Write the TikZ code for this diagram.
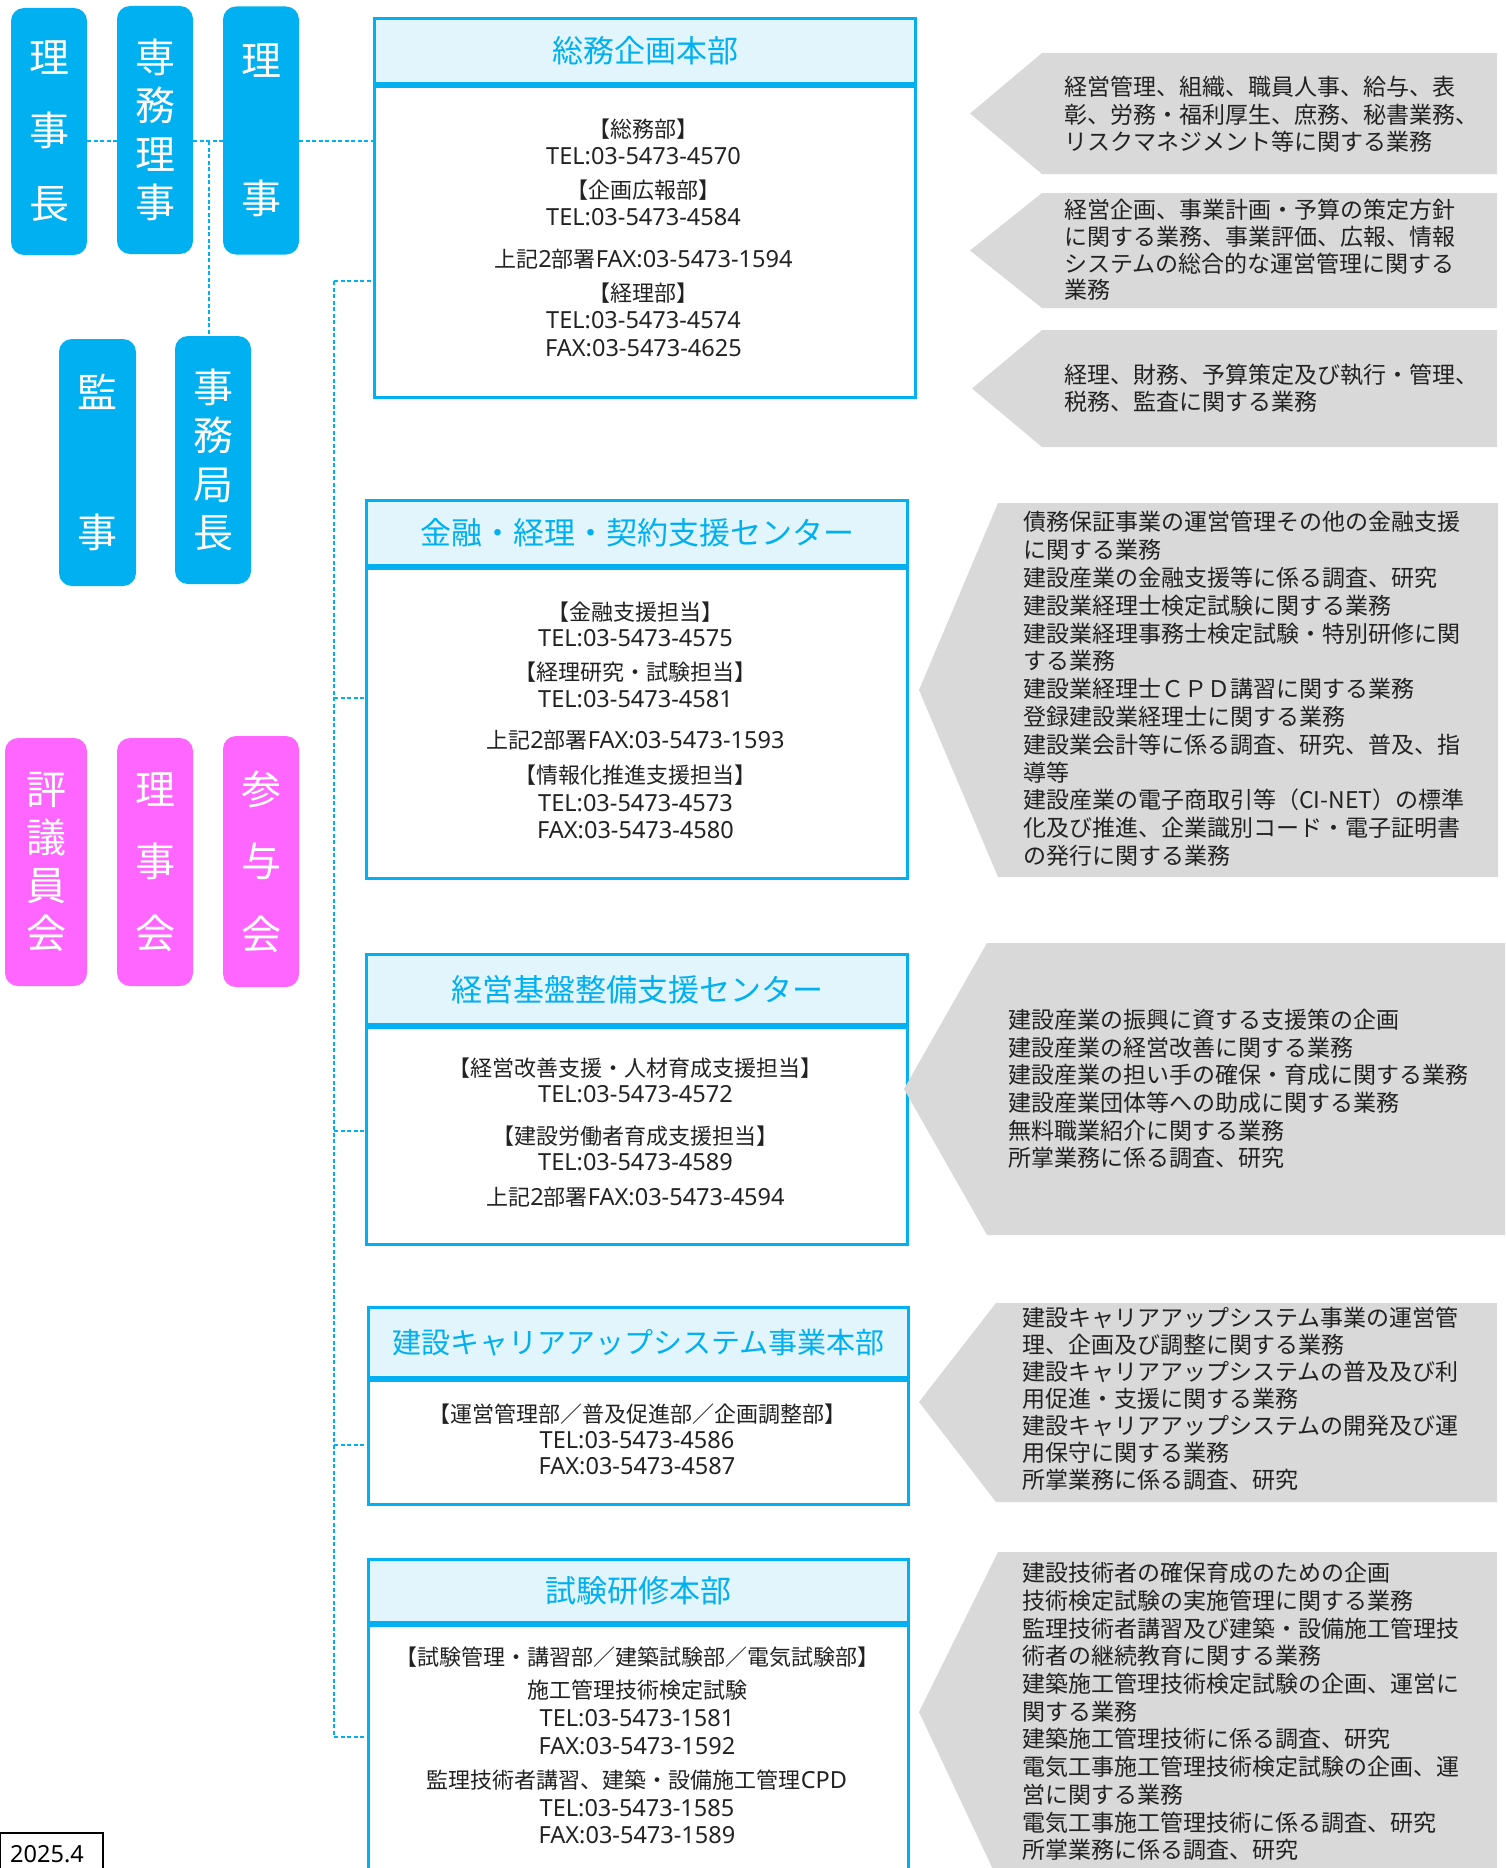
\documentclass[tikz,border=0pt]{standalone}
\usepackage{fontspec}
\setmainfont{Noto Sans CJK JP}
\newfontfamily\latfont{Noto Sans}[Scale=1.07]
\usetikzlibrary{calc}
\definecolor{cblue}{HTML}{00B0F0}
\definecolor{cpink}{HTML}{FF66FF}
\definecolor{chead}{HTML}{E2F4FC}
\definecolor{cgray}{HTML}{D9D9D9}
\definecolor{ctext}{HTML}{222222}
\newcommand{\LB}{\makebox[0.5em][r]{【}}
\newcommand{\RB}{\makebox[0.5em][l]{】}}
\newcommand{\LT}[1]{{\latfont #1}}
\tikzset{
  leftbox/.style={fill=cblue, rounded corners=13pt, text=white, align=center, inner sep=0pt, minimum width=76pt},
  pinkbox/.style={leftbox, fill=cpink},
  headbox/.style={draw=cblue, line width=3pt, fill=chead, text=cblue, inner sep=0pt, anchor=north west, minimum width=541pt, font=\fontsize{31}{36}\selectfont},
  bodybox/.style={draw=cblue, line width=3pt, fill=white, inner sep=0pt, anchor=north west, minimum width=541pt},
  sepline/.style={draw=cblue, line width=6pt},
  bodytext/.style={text=ctext, align=center, inner sep=0pt},
  arrowtext/.style={text=ctext, align=left, inner sep=0pt, anchor=west},
  arrowshape/.style={fill=cgray},
  dashline/.style={draw=cblue, line width=1.5pt, dash pattern=on 4pt off 2.5pt},
}
\begin{document}
\begin{tikzpicture}[x=1pt, y=-1pt]
\useasboundingbox (0,0) rectangle (1505,1868);
\clip (0,0) rectangle (1505,1868);
\fill[white] (0,0) rectangle (1505,1868);

% ---------- left officer boxes ----------
\node[leftbox, minimum height=247pt, font=\fontsize{40}{73}\selectfont] (rijicho) at (49,131.5) {理\\事\\長};
\node[leftbox, minimum height=248pt, font=\fontsize{40}{48.5}\selectfont] (senmu) at (155,130) {専\\務\\理\\事};
\node[leftbox, minimum height=248pt, font=\fontsize{40}{138}\selectfont] (riji) at (261,130.5) {理\\事};
\node[leftbox, minimum height=247pt, minimum width=77pt, font=\fontsize{40}{140}\selectfont] (kanji) at (97.5,462.5) {監\\事};
\node[leftbox, minimum height=248pt, font=\fontsize{40}{48.3}\selectfont] (jimu) at (213,460) {事\\務\\局\\長};

% ---------- pink council boxes ----------
\node[pinkbox, minimum height=248pt, minimum width=82pt, font=\fontsize{40}{48}\selectfont] (hyogi) at (46,862) {評\\議\\員\\会};
\node[pinkbox, minimum height=248pt, font=\fontsize{40}{72}\selectfont] (rijikai) at (155,862) {理\\事\\会};
\node[pinkbox, minimum height=251pt, font=\fontsize{40}{72.5}\selectfont] (sanyo) at (261,861.5) {参\\与\\会};

% ---------- department boxes ----------
\node[bodybox, minimum height=314pt] (b1) at (373,82) {};
\node[headbox, minimum height=65pt] (h1) at (373,17) {総務企画本部};
\draw[sepline] (h1.south west) -- (h1.south east);

\node[bodybox, minimum height=313pt] (b2) at (365,564) {};
\node[headbox, minimum height=65pt] (h2) at (365,499) {金融・経理・契約支援センター};
\draw[sepline] (h2.south west) -- (h2.south east);

\node[bodybox, minimum height=220pt] (b3) at (365,1023) {};
\node[headbox, minimum height=70pt] (h3) at (365,953) {経営基盤整備支援センター};
\draw[sepline] (h3.south west) -- (h3.south east);

\node[bodybox, minimum height=127pt, minimum width=540pt] (b4) at (367,1376) {};
\node[headbox, minimum height=70pt, minimum width=540pt, font=\fontsize{29}{34}\selectfont] (h4) at (367,1306) {建設キャリアアップシステム事業本部};
\draw[sepline] (h4.south west) -- (h4.south east);

\node[bodybox, minimum height=290pt, minimum width=540pt] (b5) at (367,1621) {};
\node[headbox, minimum height=63pt, minimum width=540pt] (h5) at (367,1558) {試験研修本部};
\draw[sepline] (h5.south west) -- (h5.south east);

% ---------- department body texts ----------
\node[bodytext, font=\fontsize{22}{27}\selectfont] (t1) at (643.5,237.5) {\LB 総務部\RB\\\LT{TEL:03-5473-4570}\\[7pt]\LB 企画広報部\RB\\\LT{TEL:03-5473-4584}\\[15pt]上記\LT{2}部署\LT{FAX:03-5473-1594}\\[7pt]\LB 経理部\RB\\\LT{TEL:03-5473-4574}\\[1pt]\LT{FAX:03-5473-4625}};
\node[bodytext, font=\fontsize{22}{27}\selectfont] (t2) at (635.5,720) {\LB 金融支援担当\RB\\[-1pt]\LT{TEL:03-5473-4575}\\[7pt]\LB 経理研究・試験担当\RB\\\LT{TEL:03-5473-4581}\\[14pt]上記\LT{2}部署\LT{FAX:03-5473-1593}\\[8pt]\LB 情報化推進支援担当\RB\\[1pt]\LT{TEL:03-5473-4573}\\\LT{FAX:03-5473-4580}};
\node[bodytext, font=\fontsize{22}{26}\selectfont] (t3) at (635.5,1132.5) {\LB 経営改善支援・人材育成支援担当\RB\\\LT{TEL:03-5473-4572}\\[16pt]\LB 建設労働者育成支援担当\RB\\\LT{TEL:03-5473-4589}\\[9pt]上記\LT{2}部署\LT{FAX:03-5473-4594}};
\node[bodytext, font=\fontsize{22}{26}\selectfont] (t4) at (637,1439) {\LB 運営管理部／普及促進部／企画調整部\RB\\\LT{TEL:03-5473-4586}\\\LT{FAX:03-5473-4587}};
\node[bodytext, font=\fontsize{22}{28}\selectfont] (t5) at (637,1745) {\LB 試験管理・講習部／建築試験部／電気試験部\RB\\[5pt]施工管理技術検定試験\\\LT{TEL:03-5473-1581}\\\LT{FAX:03-5473-1592}\\[6pt]監理技術者講習、建築・設備施工管理\LT{CPD}\\\LT{TEL:03-5473-1585}\\[-1pt]\LT{FAX:03-5473-1589}};

% ---------- gray arrow shapes ----------
\fill[arrowshape] (1042,53) -- (1497,53) -- (1497,174) -- (1042,174) -- (970,113.5) -- cycle;
\fill[arrowshape] (1042,193) -- (1497,193) -- (1497,308) -- (1042,308) -- (970,250.5) -- cycle;
\fill[arrowshape] (1042,330) -- (1497,330) -- (1497,447) -- (1042,447) -- (972,388.5) -- cycle;
\fill[arrowshape] (998,503) -- (1498,503) -- (1498,877) -- (998,877) -- (919,690) -- cycle;
\fill[arrowshape] (987,943) -- (1505,943) -- (1505,1235) -- (987,1235) -- (904,1089) -- cycle;
\fill[arrowshape] (996,1303) -- (1497,1303) -- (1497,1502) -- (996,1502) -- (919,1402) -- cycle;
\fill[arrowshape] (998,1552) -- (1497,1552) -- (1497,1880) -- (998,1880) -- (919,1712) -- cycle;

% ---------- arrow texts ----------
\node[arrowtext, font=\fontsize{23}{27.5}\selectfont] (a1) at (1064,114.5) {経営管理、組織、職員人事、給与、表\\彰、労務・福利厚生、庶務、秘書業務、\\リスクマネジメント等に関する業務};
\node[arrowtext, font=\fontsize{23}{26.7}\selectfont] (a2) at (1064,250) {経営企画、事業計画・予算の策定方針\\に関する業務、事業評価、広報、情報\\システムの総合的な運営管理に関する\\業務};
\node[arrowtext, font=\fontsize{23}{27}\selectfont] (a3) at (1064,388.5) {経理、財務、予算策定及び執行・管理、\\税務、監査に関する業務};
\node[arrowtext, font=\fontsize{23}{27.8}\selectfont] (a4) at (1023,689) {債務保証事業の運営管理その他の金融支援\\に関する業務\\建設産業の金融支援等に係る調査、研究\\建設業経理士検定試験に関する業務\\建設業経理事務士検定試験・特別研修に関\\する業務\\建設業経理士ＣＰＤ講習に関する業務\\登録建設業経理士に関する業務\\建設業会計等に係る調査、研究、普及、指\\導等\\建設産業の電子商取引等（CI-NET）の標準\\化及び推進、企業識別コード・電子証明書\\の発行に関する業務};
\node[arrowtext, font=\fontsize{23}{27.6}\selectfont] (a5) at (1008,1089) {建設産業の振興に資する支援策の企画\\建設産業の経営改善に関する業務\\建設産業の担い手の確保・育成に関する業務\\建設産業団体等への助成に関する業務\\無料職業紹介に関する業務\\所掌業務に係る調査、研究};
\node[arrowtext, font=\fontsize{23}{27}\selectfont] (a6) at (1022,1399) {建設キャリアアップシステム事業の運営管\\理、企画及び調整に関する業務\\建設キャリアアップシステムの普及及び利\\用促進・支援に関する業務\\建設キャリアアップシステムの開発及び運\\用保守に関する業務\\所掌業務に係る調査、研究};
\node[arrowtext, font=\fontsize{23}{27.7}\selectfont] (a7) at (1022,1711.5) {建設技術者の確保育成のための企画\\技術検定試験の実施管理に関する業務\\監理技術者講習及び建築・設備施工管理技\\術者の継続教育に関する業務\\建築施工管理技術検定試験の企画、運営に\\関する業務\\建築施工管理技術に係る調査、研究\\電気工事施工管理技術検定試験の企画、運\\営に関する業務\\電気工事施工管理技術に係る調査、研究\\所掌業務に係る調査、研究};

% ---------- dashed connectors ----------
\coordinate (hub) at (209,141);
\draw[dashline] (rijicho.east |- hub) -- (senmu.west |- hub);
\draw[dashline] (senmu.east |- hub) -- (riji.west |- hub);
\draw[dashline] (riji.east |- hub) -- (b1.west |- hub);
\draw[dashline] (hub) -- (hub |- jimu.north);

\coordinate (tTop) at (334,281);
\coordinate (br2) at (334,698);
\coordinate (br3) at (334,1131);
\coordinate (br4) at (334,1445);
\coordinate (tBot) at (334,1737);
\draw[dashline] (tTop) -- (tBot);
\draw[dashline] (tTop) -- (b1.west |- tTop);
\draw[dashline] (br2) -- (b2.west |- br2);
\draw[dashline] (br3) -- (b3.west |- br3);
\draw[dashline] (br4) -- (b4.west |- br4);
\draw[dashline] (tBot) -- (b5.west |- tBot);

% ---------- date box ----------
\draw[black, line width=2.5pt] (0,1880) -- (0,1833) -- (103,1833) -- (103,1880);
\node[text=black, inner sep=0pt, font=\fontsize{22}{26}\selectfont\latfont] (date) at (47,1854) {2025.4};
\end{tikzpicture}
\end{document}
